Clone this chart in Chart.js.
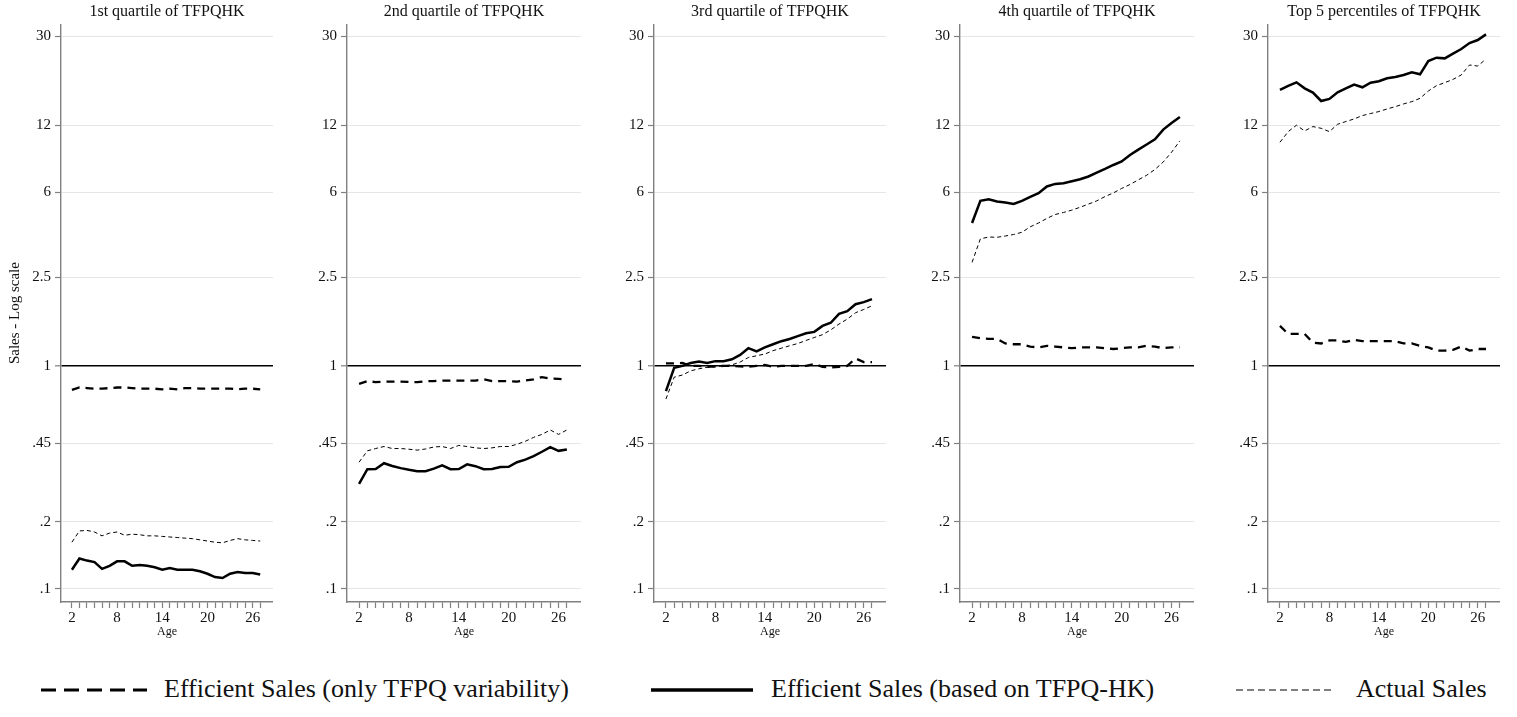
<!DOCTYPE html>
<html>
<head>
<meta charset="utf-8">
<script src="https://cdn.jsdelivr.net/npm/chart.js@4.4.0/dist/chart.umd.min.js"></script>
<style>
  body { margin: 0; background: #fff; }
  #wrap { position: relative; width: 1517px; height: 717px; }
  .panel { position: absolute; top: 0; height: 650px; }
  .legend { position: absolute; top: 674px; font-family: "Liberation Serif", "Times New Roman", serif; font-size: 26px; color: #111; white-space: nowrap; line-height: 30px; }
  .legend svg { position: absolute; top: 0; }
</style>
</head>
<body>
<div id="wrap"></div>
<script>
// ages on the x axis
const ages = [2, 3, 4, 5, 6, 7, 8, 9, 10, 11, 12, 13, 14, 15, 16, 17, 18, 19, 20, 21, 22, 23, 24, 25, 26, 27];
const xTickLabels = [2, 8, 14, 20, 26];
const yTicks = [0.1, 0.2, 0.45, 1, 2.5, 6, 12, 30];
const yTickLabels = [".1", ".2", ".45", "1", "2.5", "6", "12", "30"];

const panelTitles = [
  "1st quartile of TFPQHK",
  "2nd quartile of TFPQHK",
  "3rd quartile of TFPQHK",
  "4th quartile of TFPQHK",
  "Top 5 percentiles of TFPQHK"
];
const seriesNames = [
  "Efficient Sales (only TFPQ variability)",
  "Efficient Sales (based on TFPQ-HK)",
  "Actual Sales"
];

// 1st quartile
const tfpqQ1 = [0.78, 0.80, 0.795, 0.79, 0.79, 0.795, 0.80, 0.80, 0.795, 0.79, 0.79, 0.79, 0.785, 0.79, 0.785, 0.795, 0.795, 0.79, 0.79, 0.79, 0.79, 0.79, 0.785, 0.79, 0.79, 0.785];
const hkQ1 = [0.122, 0.137, 0.134, 0.132, 0.123, 0.127, 0.133, 0.133, 0.127, 0.128, 0.127, 0.125, 0.122, 0.124, 0.122, 0.122, 0.122, 0.120, 0.117, 0.113, 0.112, 0.117, 0.119, 0.118, 0.118, 0.116];
const actualQ1 = [0.162, 0.182, 0.183, 0.180, 0.173, 0.178, 0.180, 0.174, 0.176, 0.175, 0.173, 0.173, 0.172, 0.171, 0.170, 0.169, 0.168, 0.166, 0.164, 0.162, 0.161, 0.165, 0.168, 0.166, 0.165, 0.164];

// 2nd quartile
const tfpqQ2 = [0.83, 0.855, 0.845, 0.85, 0.85, 0.85, 0.847, 0.845, 0.853, 0.855, 0.858, 0.858, 0.858, 0.858, 0.858, 0.87, 0.855, 0.855, 0.853, 0.85, 0.86, 0.87, 0.89, 0.877, 0.874, 0.866];
const hkQ2 = [0.296, 0.344, 0.345, 0.366, 0.356, 0.348, 0.342, 0.337, 0.337, 0.346, 0.358, 0.344, 0.345, 0.362, 0.355, 0.344, 0.345, 0.352, 0.353, 0.370, 0.380, 0.394, 0.412, 0.432, 0.416, 0.422];
const actualQ2 = [0.370, 0.416, 0.426, 0.435, 0.426, 0.426, 0.423, 0.419, 0.424, 0.433, 0.435, 0.426, 0.440, 0.435, 0.429, 0.426, 0.429, 0.435, 0.435, 0.445, 0.459, 0.478, 0.493, 0.516, 0.493, 0.516];

// 3rd quartile
const tfpqQ3 = [1.025, 1.025, 1.03, 1.0, 1.0, 0.99, 0.995, 1.0, 1.0, 0.995, 0.99, 1.0, 1.01, 0.99, 1.0, 1.0, 1.0, 1.0, 1.02, 0.99, 0.985, 0.99, 1.0, 1.08, 1.04, 1.04];
const hkQ3 = [0.77, 0.98, 1.0, 1.03, 1.045, 1.03, 1.05, 1.05, 1.07, 1.12, 1.20, 1.16, 1.21, 1.25, 1.29, 1.32, 1.36, 1.40, 1.42, 1.51, 1.56, 1.71, 1.76, 1.89, 1.93, 1.99];
const actualQ3 = [0.71, 0.89, 0.91, 0.95, 0.97, 0.985, 0.99, 1.0, 1.01, 1.04, 1.09, 1.11, 1.13, 1.17, 1.20, 1.23, 1.26, 1.30, 1.34, 1.38, 1.45, 1.54, 1.62, 1.73, 1.79, 1.86];

// 4th quartile
const tfpqQ4 = [1.35, 1.33, 1.32, 1.32, 1.26, 1.25, 1.25, 1.22, 1.21, 1.23, 1.22, 1.21, 1.20, 1.21, 1.21, 1.21, 1.20, 1.19, 1.20, 1.21, 1.21, 1.23, 1.22, 1.20, 1.21, 1.21];
const hkQ4 = [4.37, 5.49, 5.58, 5.46, 5.40, 5.32, 5.49, 5.72, 5.94, 6.37, 6.54, 6.58, 6.72, 6.86, 7.06, 7.35, 7.63, 7.95, 8.24, 8.82, 9.32, 9.82, 10.37, 11.46, 12.27, 13.05];
const actualQ4 = [2.91, 3.71, 3.78, 3.77, 3.82, 3.88, 3.97, 4.20, 4.37, 4.58, 4.77, 4.87, 4.99, 5.14, 5.31, 5.49, 5.74, 5.96, 6.24, 6.50, 6.82, 7.15, 7.59, 8.20, 9.07, 10.2];

// top 5 percentiles
const tfpqTop5 = [1.51, 1.39, 1.39, 1.39, 1.27, 1.26, 1.30, 1.30, 1.28, 1.31, 1.29, 1.29, 1.29, 1.29, 1.29, 1.26, 1.26, 1.23, 1.21, 1.17, 1.17, 1.18, 1.22, 1.17, 1.19, 1.19];
const hkTop5 = [17.25, 17.97, 18.66, 17.54, 16.78, 15.39, 15.72, 16.84, 17.54, 18.22, 17.73, 18.60, 18.86, 19.45, 19.72, 20.14, 20.70, 20.27, 23.25, 24.07, 23.90, 25.08, 26.32, 27.99, 28.88, 30.6];
const actualTop5 = [10.05, 11.22, 11.98, 11.30, 11.82, 11.61, 11.22, 12.11, 12.45, 12.79, 13.24, 13.52, 13.80, 14.18, 14.52, 14.93, 15.29, 15.82, 17.06, 18.03, 18.60, 19.24, 20.14, 22.32, 22.08, 23.74];

const tfpqSeries = [tfpqQ1, tfpqQ2, tfpqQ3, tfpqQ4, tfpqTop5];
const hkSeries = [hkQ1, hkQ2, hkQ3, hkQ4, hkTop5];
const actualSeries = [actualQ1, actualQ2, actualQ3, actualQ4, actualTop5];

// layout: where each panel's canvas sits, y-axis box width, plot width
const panelLeft = [0, 302, 609, 915, 1223];
const axisWidth = [61, 45, 45, 45, 45];
const plotWidth = [212, 234, 232, 234, 232];

const FONT = "'Liberation Serif', 'Times New Roman', serif";
const INK = "#111";
const AXIS_GREY = "#808080";

function toPoints(arr) {
  return ages.map((a, i) => ({ x: a, y: arr[i] }));
}

const wrap = document.getElementById("wrap");

panelTitles.forEach((title, p) => {
  const div = document.createElement("div");
  div.className = "panel";
  div.style.left = panelLeft[p] + "px";
  div.style.width = axisWidth[p] + plotWidth[p] + "px";
  const canvas = document.createElement("canvas");
  div.appendChild(canvas);
  wrap.appendChild(div);

  new Chart(canvas, {
    type: "line",
    data: {
      datasets: [
        {
          label: seriesNames[2],
          data: toPoints(actualSeries[p]),
          borderColor: "#000",
          borderWidth: 1,
          borderDash: [4, 3],
        },
        {
          label: seriesNames[1],
          data: toPoints(hkSeries[p]),
          borderColor: "#000",
          borderWidth: 2.5,
        },
        {
          label: seriesNames[0],
          data: toPoints(tfpqSeries[p]),
          borderColor: "#000",
          borderWidth: 2.3,
          borderDash: [8, 6],
        },
      ],
    },
    options: {
      responsive: true,
      maintainAspectRatio: false,
      animation: false,
      events: [],
      layout: { padding: 0 },
      elements: {
        point: { radius: 0 },
        line: { tension: 0, fill: false },
      },
      plugins: {
        legend: { display: false },
        tooltip: { enabled: false },
        title: {
          display: true,
          text: title,
          fullSize: false,
          color: INK,
          font: { family: FONT, size: 16, weight: "normal" },
          padding: { top: 2, bottom: 3 },
        },
      },
      scales: {
        x: {
          type: "linear",
          min: 0.55,
          max: 28.7,
          afterBuildTicks: (scale) => {
            scale.ticks = ages.map((a) => ({ value: a }));
          },
          afterFit: (scale) => {
            scale.height = 48;
          },
          ticks: {
            autoSkip: false,
            maxRotation: 0,
            padding: 1,
            color: INK,
            font: { family: FONT, size: 15 },
            callback: (v) => (xTickLabels.includes(v) ? String(v) : ""),
          },
          grid: {
            drawOnChartArea: false,
            drawTicks: true,
            tickLength: 6,
            tickColor: AXIS_GREY,
            tickWidth: 1.2,
          },
          border: { display: true, color: AXIS_GREY, width: 1.4 },
          title: {
            display: true,
            text: "Age",
            color: INK,
            font: { family: FONT, size: 12 },
            padding: { top: 0, bottom: 11 },
          },
        },
        y: {
          type: "logarithmic",
          min: 0.0874,
          max: 34,
          afterBuildTicks: (scale) => {
            scale.ticks = yTicks.map((v) => ({ value: v }));
          },
          afterFit: (scale) => {
            scale.width = axisWidth[p];
          },
          ticks: {
            autoSkip: false,
            padding: 4,
            color: INK,
            font: { family: FONT, size: 15 },
            callback: (v) => {
              const i = yTicks.indexOf(v);
              return i >= 0 ? yTickLabels[i] : "";
            },
          },
          grid: {
            drawTicks: true,
            tickLength: 6,
            tickColor: AXIS_GREY,
            tickWidth: 1.2,
            color: (ctx) => (ctx.tick && ctx.tick.value === 1 ? "#000" : "#e6e6e6"),
            lineWidth: (ctx) => (ctx.tick && ctx.tick.value === 1 ? 1.6 : 1),
          },
          border: { display: true, color: AXIS_GREY, width: 1.4 },
          title: {
            display: p === 0,
            text: "Sales - Log scale",
            color: INK,
            font: { family: FONT, size: 15 },
            padding: { top: 6, bottom: 0 },
          },
        },
      },
    },
  });
});

// shared legend below the panels
const legendItems = [
  { sampleLeft: 41, sampleWidth: 106, textLeft: 164, width: 3, dash: "15 8" },
  { sampleLeft: 651, sampleWidth: 102, textLeft: 771, width: 3.5, dash: "" },
  { sampleLeft: 1236, sampleWidth: 95, textLeft: 1356, width: 1, dash: "7 4" },
];
legendItems.forEach((item, i) => {
  const box = document.createElement("div");
  box.className = "legend";
  box.style.left = item.sampleLeft + "px";
  const svg = document.createElementNS("http://www.w3.org/2000/svg", "svg");
  svg.setAttribute("width", item.sampleWidth);
  svg.setAttribute("height", 30);
  const line = document.createElementNS("http://www.w3.org/2000/svg", "line");
  line.setAttribute("x1", 0);
  line.setAttribute("x2", item.sampleWidth);
  line.setAttribute("y1", 16);
  line.setAttribute("y2", 16);
  line.setAttribute("stroke", "#000");
  line.setAttribute("stroke-width", item.width);
  if (item.dash) line.setAttribute("stroke-dasharray", item.dash);
  svg.appendChild(line);
  box.appendChild(svg);
  const label = document.createElement("span");
  label.textContent = seriesNames[i];
  label.style.position = "absolute";
  label.style.left = item.textLeft - item.sampleLeft + "px";
  label.style.top = "0px";
  box.appendChild(label);
  wrap.appendChild(box);
});
</script>
</body>
</html>
